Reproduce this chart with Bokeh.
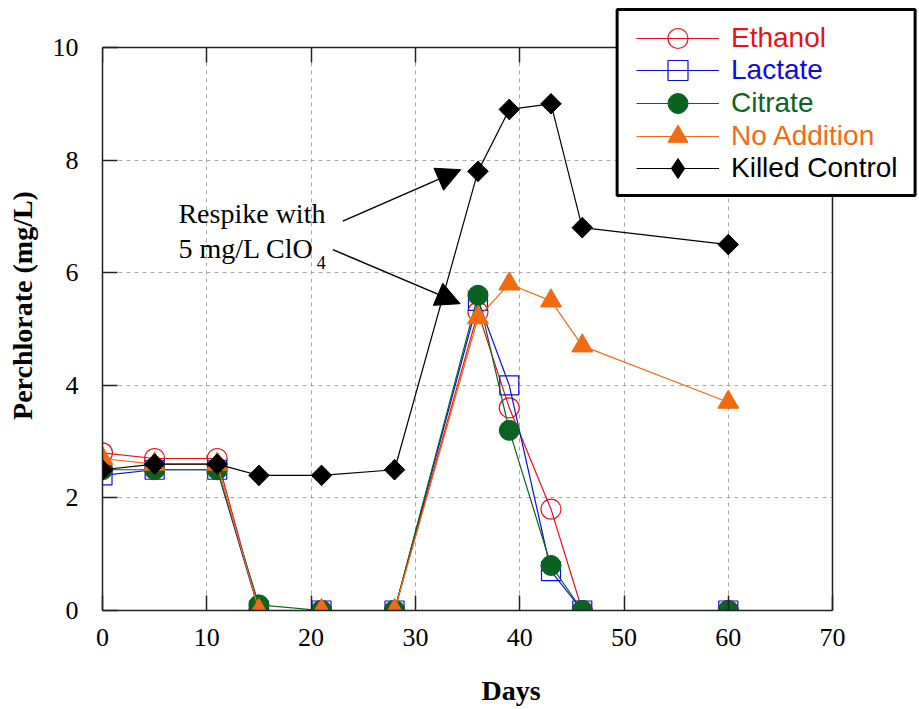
from bokeh.plotting import figure
from bokeh.models import (Range1d, LinearAxis, Legend, LegendItem, Arrow, NormalHead,
                          Label, FixedTicker, BoxAnnotation, Grid)
from bokeh.embed import file_html
from bokeh.resources import INLINE

# ---- data ----
days = [0, 5, 11, 15, 21, 28, 36, 39, 43, 46, 60]
ethanol = [2.8, 2.7, 2.7, 0.0, 0.0, 0.0, 5.3, 3.6, 1.8, 0.0, 0.0]
lactate = [2.4, 2.5, 2.5, 0.0, 0.0, 0.0, 5.5, 4.0, 0.7, 0.0, 0.0]
citrate = [2.5, 2.5, 2.5, 0.1, 0.0, 0.0, 5.6, 3.2, 0.8, 0.0, 0.0]
no_addition = [2.7, 2.6, 2.6, 0.0, 0.0, 0.0, 5.2, 5.8, 5.5, 4.7, 3.7]
killed_control = [2.5, 2.6, 2.6, 2.4, 2.4, 2.5, 7.8, 8.9, 9.0, 6.8, 6.5]

series_names = ["Ethanol", "Lactate", "Citrate", "No Addition", "Killed Control"]
x_ticks = [0, 10, 20, 30, 40, 50, 60, 70]
y_ticks = [0, 2, 4, 6, 8, 10]
X_MIN, X_MAX = 0, 70
Y_MIN, Y_MAX = 0, 10

RED = "#e8101c"
BLUE = "#0c0cdc"
GREEN = "#0b6321"
ORANGE = "#f26a12"
BLACK = "#000000"
FRAME = "#222222"

SERIF = "Liberation Serif"
SANS = "Liberation Sans"

W, H = 919, 709
LEFT, BOTTOM = 102, 99
PX_PER_DAY = 10.43
PX_PER_UNIT = 56.3
# the drawing area reaches the top/right page edges so the legend box can overhang
x_end = (W - LEFT) / PX_PER_DAY
y_end = (H - BOTTOM) / PX_PER_UNIT

p = figure(width=W, height=H, output_backend="svg", toolbar_location=None,
           x_range=Range1d(X_MIN, x_end), y_range=Range1d(Y_MIN, y_end),
           min_border_left=LEFT, min_border_right=0, min_border_top=0,
           min_border_bottom=BOTTOM, background_fill_color="white",
           border_fill_color="white")
p.outline_line_color = None

for ax in (p.xaxis[0], p.yaxis[0]):
    ax.major_tick_in = 15
    ax.major_tick_out = 0
    ax.minor_tick_line_color = None
    ax.axis_line_color = FRAME
    ax.axis_line_width = 1.5
    ax.major_tick_line_color = FRAME
    ax.major_tick_line_width = 1.5
    ax.major_label_text_font = SERIF
    ax.major_label_text_font_size = "26px"
    ax.major_label_text_color = "black"
    ax.axis_label_text_font = SERIF
    ax.axis_label_text_font_size = "28px"
    ax.axis_label_text_font_style = "bold"
    ax.axis_label_text_color = "black"

p.xaxis[0].ticker = FixedTicker(ticks=x_ticks)
p.yaxis[0].ticker = FixedTicker(ticks=y_ticks)
p.xaxis[0].bounds = (X_MIN, X_MAX)
p.yaxis[0].bounds = (Y_MIN, Y_MAX)
p.xaxis[0].axis_label = "Days"
p.yaxis[0].axis_label = "Perchlorate (mg/L)"
p.xaxis[0].major_label_standoff = 18
p.xaxis[0].axis_label_standoff = 26
p.yaxis[0].major_label_standoff = 24
p.yaxis[0].axis_label_standoff = 12

top_axis = LinearAxis(ticker=FixedTicker(ticks=x_ticks), fixed_location=Y_MAX,
                      bounds=(X_MIN, X_MAX), major_tick_in=15, major_tick_out=0,
                      minor_tick_line_color=None, major_label_text_color=None,
                      major_label_text_alpha=0,
                      axis_line_color=FRAME, axis_line_width=1.5,
                      major_tick_line_color=FRAME, major_tick_line_width=1.5,
                      major_label_standoff=0)
p.add_layout(top_axis, "above")
right_axis = LinearAxis(ticker=FixedTicker(ticks=[]), fixed_location=X_MAX,
                        bounds=(Y_MIN, Y_MAX), major_tick_line_color=None,
                        minor_tick_line_color=None, major_label_text_color=None,
                        major_label_text_alpha=0,
                        axis_line_color=FRAME, axis_line_width=1.5,
                        major_label_standoff=0)
p.add_layout(right_axis, "right")

xg, yg = p.xgrid[0], p.ygrid[0]
xg.ticker = FixedTicker(ticks=x_ticks)
yg.ticker = FixedTicker(ticks=y_ticks)
xg.bounds = (X_MIN, X_MAX)
yg.bounds = (Y_MIN, Y_MAX)
for g in (xg, yg):
    g.grid_line_color = "#a8a8a8"
    g.grid_line_dash = "4 4"
    g.grid_line_width = 1
if "cross_bounds" in Grid.properties():
    xg.cross_bounds = (Y_MIN, Y_MAX)
    yg.cross_bounds = (X_MIN, X_MAX)
else:
    p.add_layout(BoxAnnotation(left=X_MAX, fill_color="white", fill_alpha=1,
                               line_color=None, level="underlay"))
    p.add_layout(BoxAnnotation(bottom=Y_MAX, fill_color="white", fill_alpha=1,
                               line_color=None, level="underlay"))

# ---- series ----
l1 = p.line(days, ethanol, line_color=RED, line_width=1.2)
m1 = p.scatter(days, ethanol, marker="circle", size=20, fill_color=None,
               line_color=RED, line_width=1.2)
l2 = p.line(days, lactate, line_color=BLUE, line_width=1.2)
m2 = p.scatter(days, lactate, marker="square", size=19, fill_color=None,
               line_color=BLUE, line_width=1.2)
l3 = p.line(days, citrate, line_color=GREEN, line_width=1.2)
m3 = p.scatter(days, citrate, marker="circle", size=20, fill_color=GREEN,
               line_color=GREEN)
l4 = p.line(days, no_addition, line_color=ORANGE, line_width=1.2)
m4 = p.scatter(days, no_addition, marker="triangle", size=21, fill_color=ORANGE,
               line_color=ORANGE)
l5 = p.line(days, killed_control, line_color=BLACK, line_width=1.2)
# diamond used as the legend sample (legend glyphs ignore marker angle);
# in the plot it sits fully hidden under the rotated squares drawn next
m5_key = p.scatter(days, killed_control, marker="diamond", size=20,
                   fill_color=BLACK, line_color=BLACK)
m5 = p.scatter(days, killed_control, marker="square", size=14.5, angle=0.785398,
               fill_color=BLACK, line_color=BLACK)

groups = [(l1, m1), (l2, m2), (l3, m3), (l4, m4), (l5, m5_key)]
colors = [RED, BLUE, GREEN, ORANGE, BLACK]

# ---- legend box ----
box = BoxAnnotation(left=49.34, right=77.91, top=10.675, bottom=7.37,
                    fill_color="white", fill_alpha=1.0,
                    line_color="black", line_width=3, line_alpha=1.0)
p.add_layout(box)

row_centers = [37.7, 70.3, 103.0, 135.7, 168.3]  # px from top of page
ITEM_H = 50  # legend markers are drawn at 0.4 x item height
frame_bottom = H - BOTTOM
for name, col, (ln, mk), rc in zip(series_names, colors, groups, row_centers):
    lg = Legend(items=[LegendItem(label=name, renderers=[ln, mk])],
                location=(534, frame_bottom - rc - ITEM_H / 2),
                border_line_color=None, background_fill_alpha=0,
                padding=0, margin=0, spacing=0,
                glyph_width=83, glyph_height=ITEM_H, label_height=ITEM_H,
                label_standoff=12,
                label_text_font=SANS, label_text_font_size="28px",
                label_text_color=col)
    p.add_layout(lg)

# ---- annotation ----
ann_lines = ["Respike with", "5 mg/L ClO"]
p.add_layout(Label(x=7.28, y=7.05, text=ann_lines[0], text_font=SERIF,
                   text_font_size="28px", text_color="black",
                   text_baseline="alphabetic"))
p.add_layout(Label(x=7.28, y=6.43, text=ann_lines[1], text_font=SERIF,
                   text_font_size="28px", text_color="black",
                   text_baseline="alphabetic"))
p.add_layout(Label(x=20.55, y=6.19, text="4", text_font=SERIF,
                   text_font_size="18px", text_color="black",
                   text_baseline="alphabetic"))

head1 = NormalHead(size=24, fill_color="black", line_color="black")
head2 = NormalHead(size=24, fill_color="black", line_color="black")
p.add_layout(Arrow(end=head1, x_start=23.04, y_start=6.915, x_end=34.35, y_end=7.83,
                   line_color="black", line_width=1.5))
p.add_layout(Arrow(end=head2, x_start=22.08, y_start=6.41, x_end=34.29, y_end=5.45,
                   line_color="black", line_width=1.5))

open("out.html", "w").write(file_html(p, INLINE))
